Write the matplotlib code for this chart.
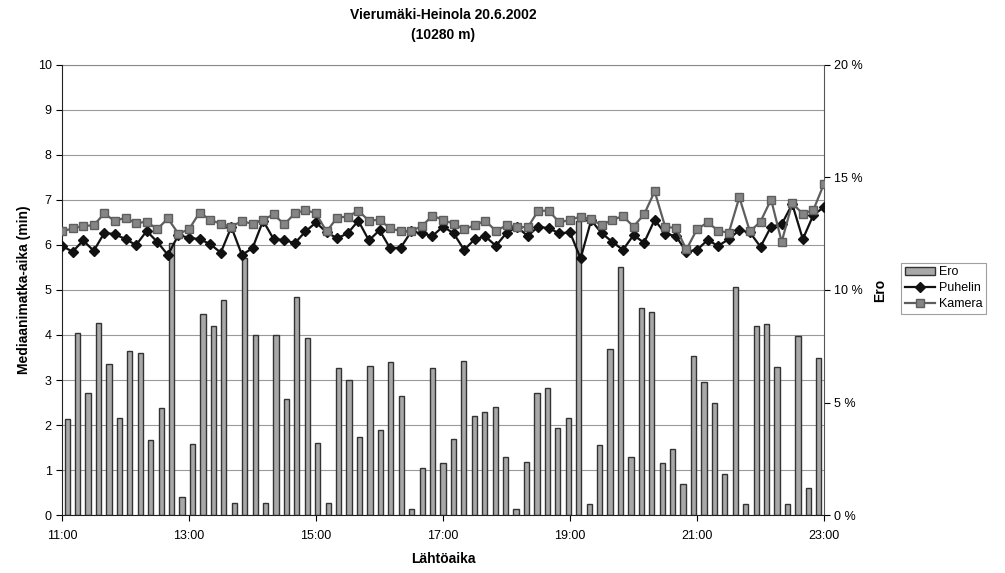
import numpy as np
import matplotlib
matplotlib.use('Agg')
import matplotlib.pyplot as plt

plt.rcParams['font.family'] = ['Liberation Sans', 'DejaVu Sans']

# departure times, every 10 minutes 11:00-23:00
times = [f"{11 + k // 6}:{(k % 6) * 10:02d}" for k in range(73)]

# median trip time (min), phone based
puhelin = [5.98, 5.85, 6.10, 5.87, 6.27, 6.24, 6.13, 6.00, 6.31, 6.07, 5.78, 6.22,
           6.16, 6.13, 6.02, 5.83, 6.40, 5.78, 5.93, 6.54, 6.13, 6.11, 6.04, 6.30,
           6.50, 6.28, 6.15, 6.26, 6.54, 6.10, 6.33, 5.93, 5.94, 6.30, 6.26, 6.20,
           6.41, 6.26, 5.89, 6.13, 6.19, 5.98, 6.27, 6.40, 6.20, 6.41, 6.37, 6.26,
           6.28, 5.70, 6.55, 6.26, 6.07, 5.89, 6.22, 6.05, 6.56, 6.25, 6.20, 5.85,
           5.89, 6.11, 5.98, 6.13, 6.33, 6.28, 5.96, 6.41, 6.46, 6.91, 6.13, 6.67, 6.84]

# median trip time (min), camera based
kamera = [6.30, 6.37, 6.42, 6.44, 6.70, 6.53, 6.61, 6.48, 6.52, 6.35, 6.59, 6.25,
          6.35, 6.72, 6.56, 6.47, 6.41, 6.53, 6.47, 6.56, 6.68, 6.46, 6.70, 6.78,
          6.70, 6.30, 6.61, 6.63, 6.76, 6.54, 6.56, 6.37, 6.31, 6.31, 6.42, 6.65,
          6.56, 6.47, 6.35, 6.44, 6.54, 6.31, 6.44, 6.41, 6.39, 6.76, 6.76, 6.50,
          6.56, 6.63, 6.57, 6.44, 6.56, 6.64, 6.41, 6.68, 7.19, 6.40, 6.38, 5.90,
          6.35, 6.50, 6.32, 6.27, 7.06, 6.30, 6.52, 7.01, 6.07, 6.93, 6.69, 6.78, 7.36]

# difference (%)
ero = [4.26, 8.10, 5.44, 8.54, 6.70, 4.32, 7.28, 7.22, 3.32, 4.74, 12.10, 0.80,
       3.14, 8.92, 8.40, 9.54, 0.52, 11.44, 8.00, 0.52, 8.00, 5.16, 9.70, 7.86,
       3.20, 0.54, 6.54, 6.02, 3.46, 6.62, 3.80, 6.80, 5.28, 0.28, 2.10, 6.52,
       2.30, 3.36, 6.84, 4.40, 4.58, 4.78, 2.60, 0.28, 2.36, 5.44, 5.66, 3.86,
       4.32, 13.06, 0.50, 3.10, 7.36, 11.02, 2.60, 9.22, 9.02, 2.32, 2.92, 1.40,
       7.06, 5.92, 5.00, 1.84, 10.14, 0.50, 8.40, 8.50, 6.58, 0.48, 7.96, 1.18, 7.00]

left_ticks = list(range(0, 11))
right_ticks = [0, 5, 10, 15, 20]
x_labels = times[::12]

fig = plt.figure(figsize=(10.05, 5.73), dpi=100)
rect = [0.0617, 0.1012, 0.7582, 0.7854]

# bars on a category axis (between tick marks)
axb = fig.add_axes(rect)
idx = np.arange(len(ero))
bars = axb.bar(idx, ero, width=0.5, color='#a8a8a8', edgecolor='#333333',
               linewidth=1.0, label='Ero', zorder=3)
axb.set_xlim(-0.5, len(ero) - 0.5)
axb.set_ylim(0, 20)
axb.yaxis.tick_right()
axb.set_yticks(right_ticks)
axb.set_yticklabels([f"{v} %" for v in right_ticks], fontsize=9)
axb.yaxis.remove_overlapping_locs = False
axb.set_yticks(np.arange(0, 21, 2), minor=True)
axb.tick_params(axis='y', which='minor', length=0)
axb.tick_params(axis='y', which='major', length=4, direction='out', pad=3)
axb.grid(axis='y', which='minor', color='#9a9a9a', linewidth=0.8, zorder=0)
axb.set_axisbelow(True)
axb.set_xticks([])
axb.yaxis.set_label_position('right')
axb.set_ylabel('Ero', fontsize=10, fontweight='bold', labelpad=8)
for s in ['left', 'bottom']:
    axb.spines[s].set_visible(False)
axb.spines['top'].set_color('#8a8a8a')
axb.spines['top'].set_linestyle((0, (1, 1)))
axb.spines['right'].set_color('#555555')
axb.spines['right'].set_linestyle((0, (1, 1)))

# lines on a second axis (on tick marks)
axl = fig.add_axes(rect)
axl.patch.set_visible(False)
xl = np.arange(len(puhelin))
lp, = axl.plot(xl, puhelin, color='#111111', lw=1.6, marker='D', ms=5,
               label='Puhelin', zorder=4)
lk, = axl.plot(xl, kamera, color='#5e5e5e', lw=1.6, marker='s', ms=5.5,
               mfc='#858585', mec='#5e5e5e', label='Kamera', zorder=4)
axl.set_xlim(0, len(puhelin) - 1)
axl.set_ylim(0, 10)
axl.set_yticks(left_ticks)
axl.set_yticklabels([str(v) for v in left_ticks], fontsize=9)
axl.set_xticks(xl[::12])
axl.set_xticklabels(x_labels, fontsize=9)
axl.tick_params(axis='both', length=4, direction='out')
axl.tick_params(axis='x', pad=7)
for s in ['top', 'right']:
    axl.spines[s].set_visible(False)
axl.spines['left'].set_color('#222222')
axl.spines['bottom'].set_color('#222222')
axl.set_ylabel('Mediaanimatka-aika (min)', fontsize=10, fontweight='bold', labelpad=5)
axl.set_xlabel('Lähtöaika', fontsize=10, fontweight='bold', labelpad=7)
axl.set_title('Vierumäki-Heinola 20.6.2002\n(10280 m)', fontsize=10,
              fontweight='bold', pad=19, linespacing=1.5)

leg = fig.legend(handles=[bars, lp, lk], loc='center left',
                 bbox_to_anchor=(0.897, 0.497), fontsize=9, frameon=True,
                 fancybox=False, edgecolor='#888888', handlelength=2.4,
                 handletextpad=0.3, borderpad=0.3, labelspacing=0.3,
                 borderaxespad=0)
leg.get_frame().set_linewidth(0.8)

fig.savefig('out.png', dpi=100)
